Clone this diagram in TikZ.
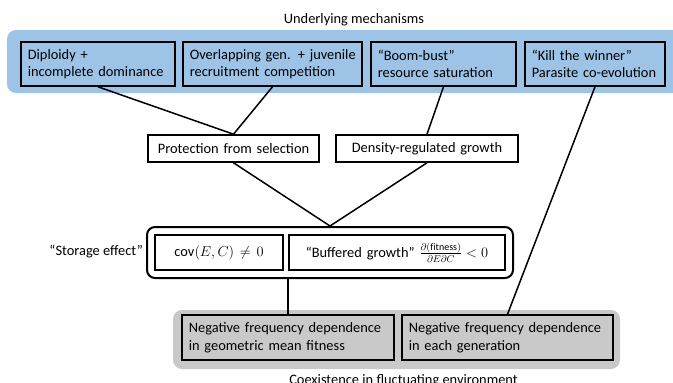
\documentclass[tikz,border=0pt]{standalone}
\usepackage{fontspec}
\setmainfont{Carlito}
\usetikzlibrary{calc}
\definecolor{bandblue}{HTML}{9DC3E6}
\definecolor{bandgray}{HTML}{C9C9C9}
\hfuzz=80pt
\begin{document}
\begin{tikzpicture}[x=1pt,y=-1pt,
  every node/.style={font=\fontsize{14.4}{17.5}\selectfont},
  box/.style={draw, line width=1.6pt, inner xsep=7pt, inner ysep=0pt, align=left, anchor=center},
  conn/.style={line width=1.5pt},
  lbl/.style={inner sep=0pt}]
\useasboundingbox (0,0) rectangle (673,383);
% bands
\fill[bandblue, rounded corners=9pt] (7,30) rectangle (690,93);
\fill[bandgray, rounded corners=9pt] (173,310) rectangle (620,369);
\node[lbl] (title) at (354,20) {Underlying mechanisms};
% top row
\node[box, text width=140.4pt, minimum height=44pt] (b1) at (98,64) {\mbox{Diploidy +}\\\mbox{incomplete dominance}};
\node[box, text width=165.4pt, minimum height=44pt] (b2) at (272.5,64) {\mbox{Overlapping gen. + juvenile}\\\mbox{recruitment competition}};
\node[box, text width=131.4pt, minimum height=44pt] (b3) at (443.5,64) {\mbox{“Boom-bust”}\\\mbox{resource saturation}};
\node[box, text width=126.4pt, minimum height=44pt] (b4) at (595,64) {\mbox{“Kill the winner”}\\\mbox{Parasite co-evolution}};
% middle row
\node[box, align=center, text width=157.4pt, minimum height=27pt] (ps) at (233.5,148.5) {Protection from selection};
\node[box, align=center, text width=168.4pt, minimum height=27pt] (dr) at (427,148.5) {Density-regulated growth};
% storage effect
\node[draw, line width=2pt, rounded corners=8pt, minimum width=366pt, minimum height=51pt, inner sep=0pt] (st) at (330,252.5) {\phantom{x}};
\node[box, align=center, text width=114.4pt, minimum height=35pt] (cov) at (219,252.5) {$\mathrm{cov}(E,C)\neq 0$};
\node[box, align=center, text width=202.4pt, minimum height=35pt] (buf) at (397,252.5) {\mbox{“Buffered growth” $\frac{\partial(\mathrm{fitness})}{\partial E\partial C}<0$}};
\node[lbl, anchor=east] (se) at (143,252) {“Storage effect”};
% bottom row
\node[box, fill=bandgray, text width=198.4pt, minimum height=45pt] (na) at (288,337.5) {\mbox{Negative frequency dependence}\\\mbox{in geometric mean fitness}};
\node[box, fill=bandgray, text width=197.4pt, minimum height=45pt] (nb) at (507.5,337.5) {\mbox{Negative frequency dependence}\\\mbox{in each generation}};
\node[lbl, anchor=base] (coex) at (403.5,384) {Coexistence in fluctuating environment};
% connectors
\draw[conn] (b1.south) -- (ps.north);
\draw[conn] (b2.south) -- (ps.north);
\draw[conn] (b3.south) -- (dr.north);
\draw[conn] (b4.south) -- (nb.north);
\draw[conn] (ps.south) -- (st.north);
\draw[conn] (dr.south) -- (st.north);
\draw[conn] (na.north |- st.south) -- (na.north);
\end{tikzpicture}
\end{document}
